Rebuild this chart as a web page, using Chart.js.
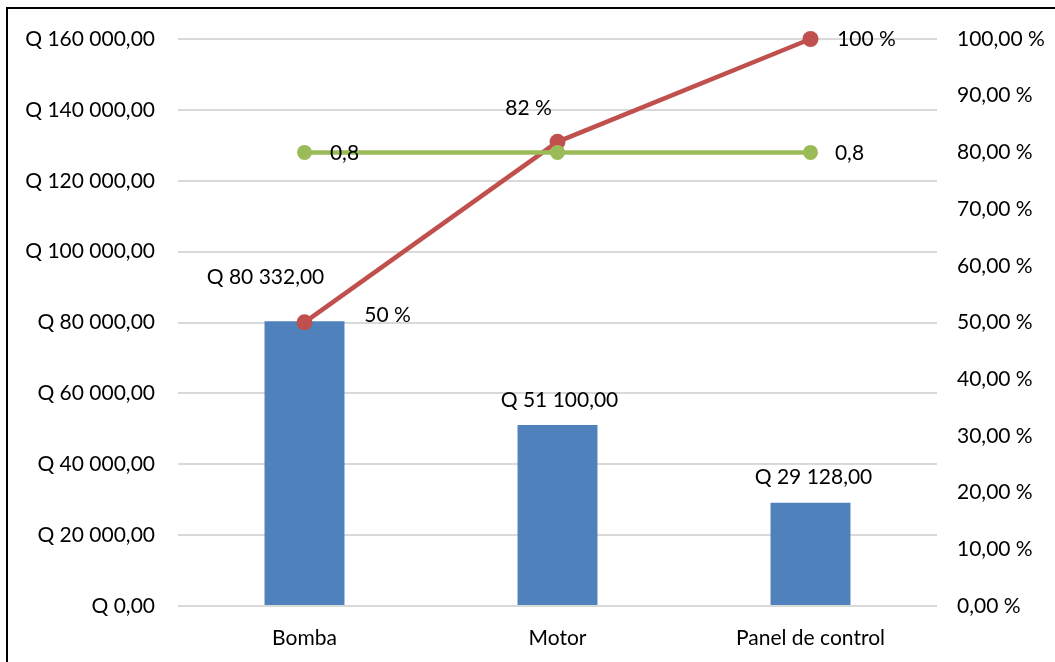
<!DOCTYPE html>
<html>
<head>
<meta charset="utf-8">
<script src="https://cdn.jsdelivr.net/npm/chart.js"></script>
<style>
  html, body { margin: 0; padding: 0; background: #fff; }
  body { width: 1055px; height: 662px; overflow: hidden; position: relative; }
  #frame {
    position: absolute; left: 6px; top: 7px; width: 1100px; height: 700px;
    border-left: 2px solid #000; border-top: 2px solid #000;
  }
  #wrap { position: absolute; left: 0; top: 0; width: 1055px; height: 662px; }
</style>
</head>
<body>
<div id="frame"></div>
<div id="wrap"><canvas id="paretoChart"></canvas></div>
<script>
// Pareto data
const categories = ['Bomba', 'Motor', 'Panel de control'];
const costs = [80332, 51100, 29128];
const cumulative = [0.5003, 0.8186, 1.0];
const threshold = [0.8, 0.8, 0.8];
const leftTicks = [0, 20000, 40000, 60000, 80000, 100000, 120000, 140000, 160000];
const rightTicks = [0, 0.1, 0.2, 0.3, 0.4, 0.5, 0.6, 0.7, 0.8, 0.9, 1.0];

const FONT = 'Lato, "Open Sans", sans-serif';
const FSIZE = 21;

function quetzal(v) {
    const parts = Math.round(v).toString().replace(/\B(?=(\d{3})+(?!\d))/g, ' ');
    return 'Q ' + parts + ',00';
}

// label offsets relative to each mark (style only)
const labelStyle = {
    0: { text: quetzal, offs: [[-39, -44], [2, -25], [3, -26]] },
    1: { text: v => Math.round(v * 100) + ' %', offs: [[83, -7], [-29, -34], [56, 0]] },
    2: { text: v => '0,8', offs: [[40, 1], null, [39, 1]] }
};

const valueLabels = {
    id: 'valueLabels',
    afterDatasetsDraw(chart) {
        const ctx = chart.ctx;
        ctx.save();
        ctx.font = FSIZE + 'px ' + FONT;
        ctx.fillStyle = '#000';
        ctx.textAlign = 'center';
        ctx.textBaseline = 'middle';
        chart.data.datasets.forEach((ds, i) => {
            const st = labelStyle[i];
            chart.getDatasetMeta(i).data.forEach((el, j) => {
                const o = st.offs[j];
                if (!o) return;
                ctx.fillText(st.text(ds.data[j]), el.x + o[0], el.y + o[1]);
            });
        });
        ctx.restore();
    }
};

const ctx = document.getElementById('paretoChart').getContext('2d');
new Chart(ctx, {
    data: {
        labels: categories,
        datasets: [
            {
                type: 'bar',
                label: 'Costo',
                data: costs,
                backgroundColor: '#4F81BD',
                yAxisID: 'y',
                barPercentage: 0.632,
                categoryPercentage: 0.5,
                order: 3
            },
            {
                type: 'line',
                label: 'Acumulado',
                data: cumulative,
                borderColor: '#C0504D',
                backgroundColor: '#C0504D',
                borderWidth: 4.5,
                pointRadius: 8,
                pointHoverRadius: 8,
                pointBorderWidth: 0,
                clip: false,
                yAxisID: 'y1',
                order: 2
            },
            {
                type: 'line',
                label: '80 %',
                data: threshold,
                borderColor: '#9BBB59',
                backgroundColor: '#9BBB59',
                borderWidth: 4.5,
                pointRadius: 7.5,
                pointHoverRadius: 7.5,
                pointBorderWidth: 0,
                clip: false,
                yAxisID: 'y1',
                order: 1
            }
        ]
    },
    options: {
        responsive: true,
        maintainAspectRatio: false,
        animation: false,
        layout: { padding: { top: 39, right: 0, bottom: 0, left: 0 } },
        plugins: {
            legend: { display: false },
            tooltip: { enabled: false }
        },
        scales: {
            x: {
                grid: { display: false, drawTicks: false },
                border: { display: false },
                ticks: { font: { family: FONT, size: FSIZE }, color: '#000', padding: 20 },
                afterFit: s => { s.height = 56; }
            },
            y: {
                position: 'left',
                min: 0,
                max: 160000,
                afterBuildTicks: s => { s.ticks = leftTicks.map(v => ({ value: v })); },
                grid: { color: '#d9d9d9', lineWidth: 2, drawTicks: false },
                border: { display: false },
                ticks: {
                    font: { family: FONT, size: FSIZE }, color: '#000', padding: 23,
                    callback: v => quetzal(v)
                },
                afterFit: s => { s.width = 178; }
            },
            y1: {
                position: 'right',
                min: 0,
                max: 1,
                afterBuildTicks: s => { s.ticks = rightTicks.map(v => ({ value: v })); },
                grid: { display: false, drawTicks: false },
                border: { display: false },
                ticks: {
                    font: { family: FONT, size: FSIZE }, color: '#000', padding: 20,
                    callback: v => (v * 100).toFixed(2).replace('.', ',') + ' %'
                },
                afterFit: s => { s.width = 118; }
            }
        }
    },
    plugins: [valueLabels]
});
</script>
</body>
</html>
